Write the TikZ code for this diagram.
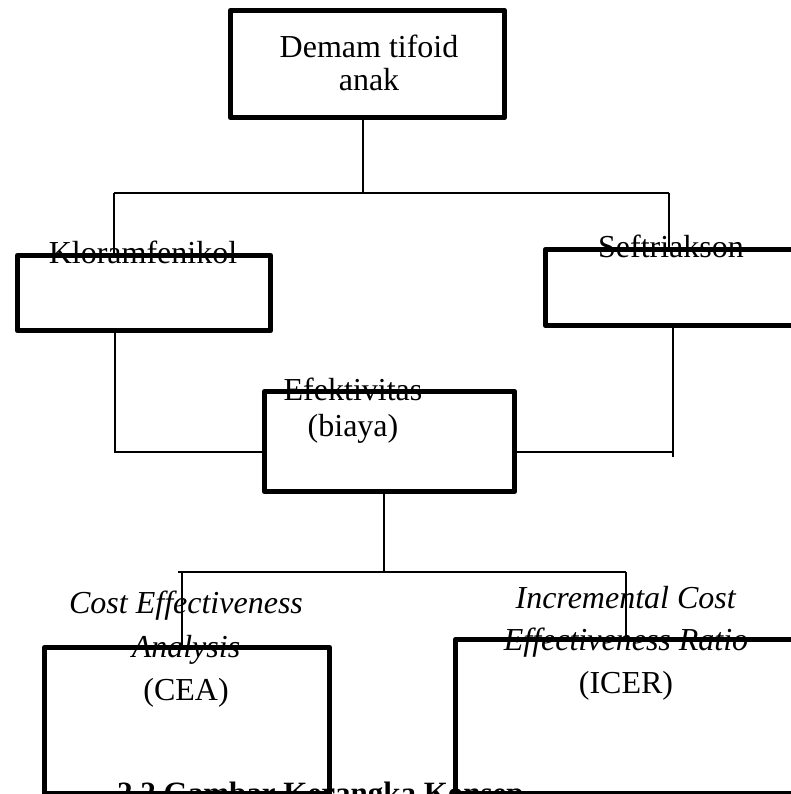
\documentclass[tikz,border=0pt]{standalone}
\usepackage{fontspec}
\setmainfont{Liberation Serif}
\tikzset{
  kotak/.style={draw, line width=5pt, line join=round, inner sep=0pt},
  garis/.style={line width=1.4pt},
  teks/.style={inner sep=0pt, align=center},
}
\newcommand{\ukuran}[1]{\fontsize{32}{#1}\selectfont}

\begin{document}
\begin{tikzpicture}[x=1pt, y=-1pt]
        \useasboundingbox (0,0) rectangle (791,794);
        \clip (0,0) rectangle (791,794);
        % kotak
        \node[kotak, minimum width=274.5pt, minimum height=107.5pt] (dem) at (367.5,64) {};
        \node[kotak, minimum width=253.5pt, minimum height=75.5pt] (klo) at (144,293) {};
        \node[kotak, minimum width=262.5pt, minimum height=76.5pt] (sef) at (676.5,287.5) {};
        \node[kotak, minimum width=250.5pt, minimum height=100.5pt] (efk) at (389.5,441.5) {};
        \node[kotak, minimum width=285.5pt, minimum height=146.5pt] (cea) at (187,720.5) {};
        \node[kotak, minimum width=357.5pt, minimum height=154.5pt] (icer) at (634,716.5) {};

        % teks
        \node[teks, anchor=north, font=\ukuran{33}] (tdem) at (369,35) {Demam tifoid\\anak};
        \node[teks, anchor=base, font=\ukuran{36}] (tklo) at (143,263) {Kloramfenikol};
        \node[teks, anchor=base, font=\ukuran{36}] (tsef) at (671,257) {Seftriakson};
        \node[teks, anchor=north, font=\ukuran{36}] (tefk) at (353,378) {Efektivitas\\(biaya)};
        \node[teks, anchor=north, font=\ukuran{43.5}] (tcea) at (186,591)
            {\textit{Cost Effectiveness}\\\textit{Analysis}\\(CEA)};
        \node[teks, anchor=north, font=\ukuran{42.5}] (ticer) at (626,586)
            {\textit{Incremental Cost}\\\textit{Effectiveness Ratio}\\(ICER)};
        \node[anchor=base west, inner sep=0pt, font=\fontsize{31}{36}\selectfont\bfseries] (judul) at (117,803)
            {2.2 Gambar Kerangka Konsep};

        % garis penghubung
        \coordinate (t1) at (363,193);
        \coordinate (ki) at (114,193);
        \coordinate (ka) at (669,193);
        \draw[garis] (t1 |- dem.south) -- (t1);
        \draw[garis] (ki) -- (ka);
        \draw[garis] (ki) -- (ki |- klo.north);
        \draw[garis] (ka) -- (ka |- sef.north);

        \coordinate (kb) at (115,452);
        \coordinate (kc) at (673,452);
        \draw[garis] (kb |- klo.south) -- (kb) -- (kb -| efk.west);
        \draw[garis] (kc |- sef.south) -- ([yshift=-5pt]kc);
        \draw[garis] (efk.east |- kc) -- (kc);

        \coordinate (t2) at (384,572);
        \coordinate (kd) at (182,572);
        \coordinate (ke) at (626,572);
        \draw[garis] (t2 |- efk.south) -- (t2);
        \draw[garis] ([xshift=-4pt]kd) -- (ke);
        \draw[garis] (kd) -- (kd |- cea.north);
        \draw[garis] (ke) -- (ke |- icer.north);
    \end{tikzpicture}
\end{document}
